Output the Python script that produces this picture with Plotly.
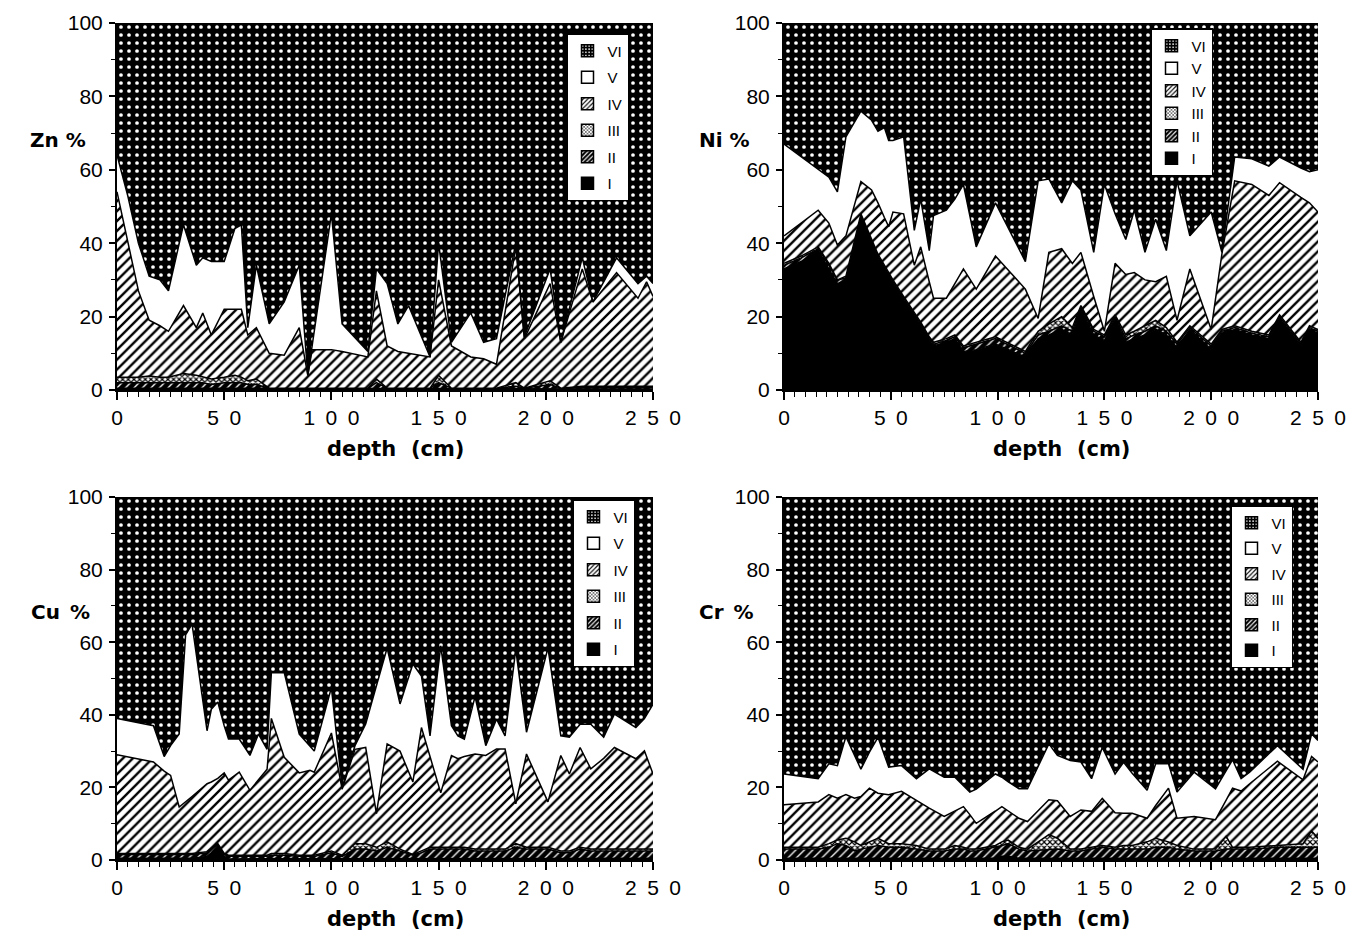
import plotly.graph_objects as go

# ---------------------------------------------------------------------------
# Sequential-extraction fractions (% of total metal) versus core depth (cm).
# Fractions I..VI are stacked from the bottom (I) to the top (VI).
# ---------------------------------------------------------------------------

fractions = ["I", "II", "III", "IV", "V", "VI"]

# --- Zn ---
zn_depth = [0, 5, 10, 15, 20, 24, 31, 37, 40, 44, 50, 55, 58, 61, 65, 71, 78, 85, 89, 91,
            100, 105, 117, 121, 126, 131, 136, 146, 150, 156, 165, 171, 177, 186, 190,
            202, 207, 217, 222, 233, 243, 247, 250]
zn_I = [0.5, 0.5, 0.5, 0.5, 0.5, 0.5, 0.5, 0.5, 0.5, 0.5, 0.5, 0.5, 0.5, 0.5, 0.5,
        0.3, 0.3, 0.3, 0.3, 0.3, 0.3, 0.3, 0.3, 0.5, 0.3, 0.3, 0.3, 0.3, 0.5, 0.3,
        0.3, 0.3, 0.3, 0.3, 0.3, 0.5, 0.3, 0.3, 0.3, 0.3, 0.3, 0.3, 0.3]
zn_II = [1.5, 1.5, 1.5, 1.5, 1.5, 1.5, 1.5, 1.5, 1.5, 1, 1.5, 1.5, 1.5, 1, 1,
         0.2, 0.2, 0.2, 0.2, 0.2, 0.2, 0.2, 0.2, 1.5, 0.2, 0.2, 0.2, 0.2, 1.5, 0.2,
         0.2, 0.2, 0.2, 0.7, 0.2, 1, 0.2, 0.4, 0.4, 0.4, 0.4, 0.4, 0.4]
zn_III = [1.5, 1.5, 1.5, 1.8, 1.5, 1.5, 2.5, 2, 1.5, 1.5, 1.5, 2, 1.5, 1, 1.5,
          0, 0, 0, 0, 0, 0, 0, 0, 1, 0, 0, 0, 0, 2, 0,
          0, 0, 0, 1, 0, 1, 0, 0.3, 0.3, 0.3, 0.3, 0.3, 0.3]
zn_IV = [50.5, 36.5, 23.5, 15.2, 14, 12.5, 18.5, 13, 17.5, 12, 18.5, 18, 18.5, 12.5, 14,
         9.5, 9, 16.5, 3.5, 10.5, 10.5, 10, 8.5, 24, 11.5, 10, 9.5, 8.5, 26, 11.5,
         8.5, 8, 6.5, 37, 13.5, 26.5, 12.5, 32, 23, 31, 24, 28.5, 24.5]
zn_V = [10, 13, 13, 12, 12.5, 11, 22, 17, 15, 20, 13, 22, 23, 2, 17,
        8, 14.5, 17, 0, 1, 37, 7.5, 1.5, 6, 17, 7.5, 13, 0, 10, 1,
        12, 4.5, 7, 1, 0.5, 4, 0, 3, 0, 4, 4, 1.5, 3.5]
zn_VI = [36, 47, 60, 69, 70, 73, 55, 66, 64, 65, 65, 56, 55, 83, 66,
         82, 76, 66, 96, 88, 52, 82, 89.5, 67, 71, 82, 77, 91, 60, 87,
         79, 87, 86, 60, 85.5, 67, 87, 64, 76, 64, 71, 69, 71]

# --- Ni ---
ni_depth = [0, 8, 16, 21, 25, 29, 36, 41, 44, 47, 49, 51, 56, 61, 64, 68, 70, 76, 80, 84,
            90, 99, 113, 119, 124, 130, 135, 139, 145, 150, 155, 160, 164, 169, 174,
            179, 184, 190, 200, 205, 211, 219, 227, 232, 242, 246, 250]
ni_I = [33, 35, 38, 33, 29, 30, 47, 40, 36, 33, 31, 29, 24.5, 20, 17.5, 13.5, 12, 13, 14, 10.5,
        11, 12.5, 9, 14, 15, 16.5, 15, 22, 15, 13.5, 19.5, 13, 14, 15, 16.5,
        15, 11.5, 16.5, 11, 15.5, 16.5, 15, 14, 19.5, 12, 16.5, 15.5]
ni_II = [1, 1, 0.5, 1, 1, 0.5, 0.5, 0.5, 0.5, 0.5, 0.5, 0.5, 0.5, 0.5, 0.5, 0.5, 0.5, 0.5, 0.5, 1,
         1.5, 1.5, 1, 1, 1, 1, 1, 0.5, 1, 1, 0.5, 1, 1, 1, 1,
         1, 1, 0.5, 1, 0.5, 0.5, 0.5, 0.5, 0.5, 0.5, 0.5, 0.5]
ni_III = [0.5, 0.5, 0.5, 0.5, 0, 0.5, 0.5, 0.5, 0.5, 0.5, 0.5, 0.5, 0.5, 0.5, 0.5, 0.5, 0.5, 0.5, 0.5, 0.5,
          0.5, 0.5, 0.5, 1, 2, 2.5, 1, 0.5, 0.5, 0.5, 0.5, 1, 1, 1.5, 1.5,
          1, 0.5, 0.5, 0.5, 0.5, 0.5, 0.5, 0.5, 0.5, 0.5, 0.5, 0.5]
ni_IV = [7.5, 9, 10, 11, 9.5, 11, 8.8, 13.5, 14, 13, 12.5, 18.5, 22.5, 13, 20.5, 15, 12, 11, 14, 21,
         14.5, 22, 17, 3.5, 19.5, 18.5, 17.5, 14.5, 9, 1, 14, 16.5, 16, 12.5, 10.5,
         14, 6, 15.5, 4, 20.5, 39.5, 40, 38, 36, 39.5, 33.5, 32]
ni_V = [25, 18, 11, 12.5, 14.5, 27, 19.2, 19, 19.5, 24.5, 23.5, 19.5, 21, 9.5, 13, 8.5, 22.5, 24, 23, 23,
        11.5, 14.5, 7.5, 37.5, 20, 12.5, 22.5, 17, 12, 40, 13.5, 9.5, 17, 7.5, 17,
        7, 38, 9, 32, 0.5, 6.5, 7, 8, 7, 8, 8.5, 11.5]
ni_VI = [33, 36.5, 40, 42, 46, 31, 24, 26.5, 29.5, 28.5, 32, 32, 31, 56.5, 48, 62, 52.5, 51, 48, 44,
         61, 49, 65, 43, 42.5, 49, 43, 45.5, 62.5, 44, 52, 59, 51, 62.5, 53.5,
         62, 43, 58, 51.5, 62.5, 36.5, 37, 39, 36.5, 39.5, 40.5, 40]

# --- Cu ---
cu_depth = [0, 17, 22, 25, 29, 32, 35, 42, 44, 47, 50, 52, 57, 62, 66, 70, 72, 78, 85, 90,
            92, 100, 105, 111, 116, 121, 126, 132, 138, 142, 146, 151, 156, 159, 162,
            167, 172, 177, 181, 186, 191, 201, 207, 211, 216, 221, 227, 232, 242, 246, 250]
cu_I = [0.5, 0.5, 0.5, 0.5, 0.5, 0.5, 0.5, 1, 2, 4, 1, 0.3, 0.3, 0.3, 0.3, 0.3, 0.3, 0.3, 0.3, 0.3,
        0.3, 0.5, 0.3, 0.5, 0.5, 0.5, 0.5, 0.5, 0.3, 0.5, 0.5, 0.5, 0.5, 0.5, 0.5,
        0.5, 0.5, 0.5, 0.5, 0.5, 0.5, 0.5, 0.5, 0.5, 0.5, 0.5, 0.5, 0.5, 0.5, 0.5, 0.5]
cu_II = [1, 1, 1, 1, 1, 1, 1, 1, 1, 0.5, 0.5, 0.7, 0.7, 0.7, 0.7, 0.7, 1, 1, 0.7, 0.7,
         0.7, 1.5, 0.7, 2.5, 2.5, 2, 3, 2, 1, 1.5, 2.5, 2.5, 2.5, 2.5, 2.5,
         2, 2, 2, 2, 3, 2.5, 2.5, 1.5, 1.5, 2.5, 2, 2, 2, 2, 2, 2]
cu_III = [0.3, 0.3, 0.3, 0.3, 0.3, 0.3, 0.3, 0.3, 0.3, 0, 0.3, 0.3, 0.3, 0.3, 0.3, 0.3, 0.5, 0.5, 0.3, 0.3,
          0.3, 0.5, 0.3, 1.5, 1.5, 1, 1.5, 0.5, 0.2, 0.5, 0.5, 0.5, 0.5, 0.5, 0.5,
          0.5, 0.5, 0.5, 0.5, 1, 0.5, 0.5, 0.5, 0.5, 0.5, 0.5, 0.5, 0.5, 0.5, 0.5, 0.5]
cu_IV = [27.2, 25.2, 22.7, 21.5, 12.8, 14.2, 15.7, 18.7, 18.2, 18, 22.2, 20.7, 22.9, 17.9, 20.7,
         23.7, 37.2, 26.5, 22.7, 23.4, 22.9, 32.5, 18.2, 26, 26.5, 9.3, 27, 27, 20, 34,
         25, 15, 25.3, 24.4, 25, 26.2, 25.8, 27.6, 27.6, 11, 25.7, 12.5, 26.3, 21.2, 27.5,
         22.1, 25, 28, 24.9, 27.1, 20.7]
cu_V = [10, 10, 4, 8.2, 20.1, 46, 47.5, 14.6, 20, 21, 13, 11.3, 9.1, 9.6, 12.7,
        5.5, 12.6, 23.3, 10.7, 6.8, 5.8, 12.5, 0.5, 1, 6.5, 35.2, 26.4, 13, 32.5, 14.2,
        5.7, 40.5, 8.2, 6.3, 4.8, 15.8, 2.7, 8.2, 3.6, 42.5, 6, 42.4, 5.4, 10.1, 6.4,
        12.3, 5.8, 9.2, 8.6, 8.9, 19.2]
cu_VI = [61, 63, 71.5, 68.5, 65.3, 38, 35, 64.4, 58.5, 56.5, 63, 66.7, 66.7, 71.2, 65.3,
         69.5, 48.4, 48.4, 65.3, 68.5, 70, 52.5, 80, 68.5, 62.5, 52, 41.6, 57, 46, 49.3,
         65.8, 41, 63, 65.8, 66.7, 55, 68.5, 61.2, 65.8, 42, 64.8, 41.6, 65.8, 66.2, 62.6,
         62.6, 66.2, 59.8, 63.5, 61, 57.1]

# --- Cr ---
cr_depth = [0, 16, 21, 25, 29, 33, 36, 40, 44, 49, 55, 62, 68, 75, 80, 84, 87, 90, 99, 102,
            105, 110, 114, 124, 128, 134, 139, 144, 149, 155, 159, 163, 170, 174, 180,
            184, 192, 202, 207, 210, 214, 218, 231, 243, 247, 250]
cr_I = [0.5, 0.5, 0.5, 0.5, 0.5, 0.5, 0.5, 0.5, 0.5, 0.5, 0.5, 0.5, 0.5, 0.5, 0.5, 0.5, 0.5, 0.5, 0.5, 1,
        1, 0.5, 0.5, 0.5, 0.5, 0.5, 0.5, 0.5, 0.5, 0.5, 0.5, 0.5, 0.5, 0.5, 0.5,
        0.5, 0.5, 0.5, 0.5, 0.5, 0.5, 0.5, 0.5, 0.5, 0.5, 0.5]
cr_II = [2.5, 2.5, 3, 4, 3.5, 2, 2.5, 3, 3.5, 3, 3, 2.5, 2, 2, 2.5, 2.5, 2, 2, 3, 3,
         3.5, 2.5, 2, 2.5, 2.5, 2, 2, 2.5, 3, 2.5, 2.5, 2.5, 2.5, 3, 3,
         2.5, 2, 2, 2.5, 2.5, 2.5, 2.5, 3, 3, 3, 3]
cr_III = [0.5, 0.5, 1, 1, 2, 2.5, 1, 1.5, 2, 1, 1, 1, 0.5, 0.5, 1, 0.5, 0.5, 0.5, 0.5, 1,
          1, 0.5, 0.5, 4, 3, 0.5, 0.5, 0.5, 0.5, 0.5, 1, 1, 2, 2.5, 1.5,
          1, 0.5, 0.5, 3.5, 0.5, 0.5, 0.5, 0.5, 1, 4.5, 2.5]
cr_IV = [11.7, 12.5, 13.5, 11.5, 12, 12, 13.5, 14.8, 12.4, 13.5, 14.4, 12.3, 11.3, 9, 9.5,
         11.2, 9.5, 7.1, 9.5, 9.7, 8, 8, 7.6, 9.6, 10.3, 9, 10.8, 9.9, 13, 9.5,
         8.9, 8.9, 6.5, 9, 14.8, 7.5, 9, 8.1, 10, 16.3, 15.5, 17.5, 23.2, 17.6, 20.5, 21]
cr_V = [8.5, 6.4, 8.5, 9, 16, 11.6, 7.5, 9.9, 15.4, 7.6, 7.1, 6.1, 10.8, 10.8, 9.3,
        5.8, 6.2, 9.4, 10.2, 8.1, 8, 8.1, 9, 15.4, 12.5, 15.4, 13.2, 9, 14, 10.7,
        14, 11, 7.7, 11.5, 6.7, 7.2, 12.2, 8.5, 8.3, 7.8, 3.4, 3.2, 4.3, 2.9, 6.2, 5.9]
cr_VI = [76.3, 77.6, 73.5, 74, 66, 71.4, 75, 70.3, 66.2, 74.4, 74, 77.6, 74.9, 77.2, 77.2,
         79.5, 81.3, 80.5, 76.3, 77.2, 78.5, 80.4, 80.4, 68, 71.2, 72.6, 73, 77.6, 69, 76.3,
         73.1, 76.1, 80.8, 73.5, 73.5, 81.3, 75.8, 80.4, 75.2, 72.4, 77.6, 75.8, 68.5, 75, 65.3, 67.1]

# axis ticks
x_tick_values = [0, 50, 100, 150, 200, 250]
x_tick_labels = ["0", "50", "100", "150", "200", "250"]
y_tick_values = [0, 20, 40, 60, 80, 100]
y_tick_labels = ["0", "20", "40", "60", "80", "100"]

# ---------------------------------------------------------------------------
# styling
# ---------------------------------------------------------------------------
W, H = 1348, 932
TICK_FONT = dict(family="Liberation Sans, Arial, sans-serif", size=21, color="black")
TITLE_FONT = dict(family="DejaVu Sans, sans-serif", size=20, color="black")
LEGEND_FONT = dict(family="Liberation Sans, Arial, sans-serif", size=15, color="black")

# background, foreground, pattern shape, tile size, solidity
FILL_STYLE = {
    "I":   ("black", "black", "", 8, 0.3),
    "II":  ("black", "white", "/", 6, 0.22),
    "III": ("white", "black", "x", 4, 0.5),
    "IV":  ("white", "black", "/", 7, 0.34),
    "V":   ("white", "white", "", 8, 0.3),
    "VI":  ("black", "white", ".", 8, 0.17),
}


def px_x(px):
    return px / W


def px_y(py):
    return 1 - py / H


def spaced(label):
    # wide letter tracking of the depth tick labels
    return "\u2002".join(label)


panels = [
    dict(metal="Zn", title="Zn %", depth=zn_depth,
         shares=[zn_I, zn_II, zn_III, zn_IV, zn_V, zn_VI],
         xdom=(117, 653), ydom=(23, 390), legend="legend", leg_pos=(566, 33), leg_gap=4,
         title_pos=(58, 140)),
    dict(metal="Ni", title="Ni %", depth=ni_depth,
         shares=[ni_I, ni_II, ni_III, ni_IV, ni_V, ni_VI],
         xdom=(784, 1318), ydom=(23, 390), legend="legend2", leg_pos=(1150, 28), leg_gap=0,
         title_pos=(724, 140)),
    dict(metal="Cu", title="Cu\u2002%", depth=cu_depth,
         shares=[cu_I, cu_II, cu_III, cu_IV, cu_V, cu_VI],
         xdom=(117, 653), ydom=(497, 860), legend="legend3", leg_pos=(572, 499), leg_gap=4,
         title_pos=(60, 612)),
    dict(metal="Cr", title="Cr\u2002%", depth=cr_depth,
         shares=[cr_I, cr_II, cr_III, cr_IV, cr_V, cr_VI],
         xdom=(784, 1318), ydom=(497, 860), legend="legend4", leg_pos=(1230, 505), leg_gap=3,
         title_pos=(726, 612)),
]

fig = go.Figure()
layout = dict(
    width=W, height=H, margin=dict(l=0, r=0, t=0, b=0, autoexpand=False),
    paper_bgcolor="white", plot_bgcolor="white", showlegend=True,
    barmode="overlay", annotations=[],
)

for i, p in enumerate(panels):
    n = "" if i == 0 else str(i + 1)
    xa, ya = "x" + n, "y" + n
    # stacked fraction areas
    for frac, share in zip(fractions, p["shares"]):
        bg, fg, shape, size, sol = FILL_STYLE[frac]
        kw = dict(fillcolor=bg)
        if shape:
            kw["fillpattern"] = dict(shape=shape, bgcolor=bg, fgcolor=fg, size=size,
                                     solidity=sol, fillmode="replace")
        fig.add_trace(go.Scatter(
            x=p["depth"], y=share, mode="lines", stackgroup=p["metal"],
            line=dict(color="black", width=1.5), name=frac, showlegend=False,
            hoverinfo="skip", xaxis=xa, yaxis=ya, **kw))
    # legend keys, listed from the top fraction (VI) down to I
    for frac in reversed(fractions):
        bg, fg, shape, size, sol = FILL_STYLE[frac]
        marker = dict(color=bg, line=dict(color="black", width=1.5))
        if shape:
            marker["pattern"] = dict(shape=shape, bgcolor=bg, fgcolor=fg,
                                     size=3 if shape == "x" else 4,
                                     solidity=0.2 if shape == "." else 0.35, fillmode="replace")
        fig.add_trace(go.Bar(
            x=[None], y=[None], name=frac, marker=marker, legend=p["legend"],
            legendgroup=p["metal"] + frac, showlegend=True, xaxis=xa, yaxis=ya))

    x0, x1 = p["xdom"]
    y0, y1 = p["ydom"]
    layout["xaxis" + n] = dict(
        domain=[px_x(x0), px_x(x1)], range=[0, 250], anchor=ya,
        tickmode="array", tickvals=x_tick_values, ticktext=[spaced(t) for t in x_tick_labels],
        ticks="outside", ticklen=8, tickwidth=1.5, tickcolor="black",
        minor=dict(tickmode="linear", tick0=0, dtick=5, ticks="outside", ticklen=5,
                   tickwidth=1.2, tickcolor="black"),
        showline=True, linecolor="black", linewidth=2, mirror=False,
        showgrid=False, zeroline=False, tickfont=TICK_FONT, ticklabelstandoff=0,
        automargin=False,
    )
    layout["yaxis" + n] = dict(
        domain=[px_y(y1), px_y(y0)], range=[0, 100], anchor=xa,
        tickmode="array", tickvals=y_tick_values, ticktext=y_tick_labels,
        ticks="outside", ticklen=6, tickwidth=1.5, tickcolor="black",
        minor=dict(tickmode="linear", tick0=0, dtick=10, ticks="outside", ticklen=4,
                   tickwidth=1.2, tickcolor="black"),
        showline=True, linecolor="black", linewidth=2, mirror=False,
        showgrid=False, zeroline=False, tickfont=TICK_FONT, ticklabelstandoff=2,
        automargin=False,
    )
    lx, ly = p["leg_pos"]
    layout[p["legend"]] = dict(
        x=px_x(lx), y=px_y(ly), xanchor="left", yanchor="top",
        bgcolor="white", bordercolor="black", borderwidth=1.5,
        font=LEGEND_FONT, traceorder="grouped", tracegroupgap=p["leg_gap"],
        itemclick=False, itemdoubleclick=False,
    )
    tx, ty = p["title_pos"]
    layout["annotations"].append(dict(
        text="<b>" + p["title"] + "</b>", x=px_x(tx), y=px_y(ty), xref="paper", yref="paper",
        showarrow=False, font=TITLE_FONT, xanchor="center", yanchor="middle"))
    layout["annotations"].append(dict(
        text="<b>depth  (cm)</b>", x=px_x((x0 + x1) / 2 + 10), y=px_y(y1 + 59),
        xref="paper", yref="paper", showarrow=False,
        font=dict(family="DejaVu Sans, sans-serif", size=21, color="black"),
        xanchor="center", yanchor="middle"))

fig.update_layout(**layout)
fig.write_html("out.html")
